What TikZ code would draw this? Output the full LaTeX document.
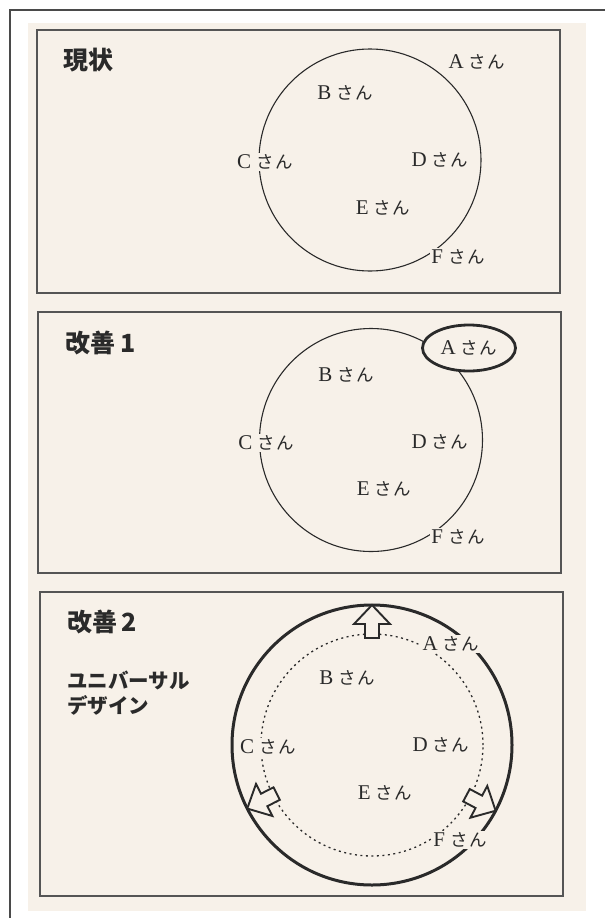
\documentclass[tikz,border=0pt]{standalone}
\usepackage{fontspec}
\usetikzlibrary{shapes.geometric}
\newfontfamily\jp{Noto Sans CJK JP}
\newfontfamily\ltr{Liberation Serif}
\definecolor{bg}{HTML}{F7F1E9}
\definecolor{ink}{HTML}{2A2A2A}
\newcommand{\san}[1]{{\ltr\fontsize{21}{21}\selectfont #1}\kern5pt{\jp\fontsize{17.5}{17.5}\selectfont さ\kern1.5pt ん}}
\tikzset{
  panel/.style={draw=ink!80, line width=1.3pt},
  lab/.style={fill=bg, inner sep=1.5pt, text=ink},
  ttl/.style={anchor=west, inner sep=0pt, text=ink, font=\jp\bfseries\fontsize{25}{25}\selectfont},
  thinring/.style={draw=ink, line width=1.1pt},
  thickring/.style={draw=ink, line width=3pt},
  dotring/.style={draw=ink, line width=1.3pt, dash pattern=on 2pt off 3.5pt},
  blockarrow/.style={draw=ink, line width=1.9pt, fill=bg, line join=miter}
}
\begin{document}
\begin{tikzpicture}[x=1pt,y=1pt]
\useasboundingbox (0,0) rectangle (605,-918);
\fill[white] (0,0) rectangle (605,-918);
\fill[bg] (28,-23) rectangle (586,-911);
\draw[ink!85, line width=1.5pt] (10,-918) -- (10,-10) -- (605,-10);

% ---------- panel 1 ----------
\draw[panel] (37,-30) rectangle (560,-293);
\node[ttl] (t1) at (63,-60) {現状};
\coordinate (c1) at (370,-160);
\draw[thinring] (c1) circle[radius=111];
\node[lab] (a1) at (477,-62) {\san{A}};
\node[lab] (b1) at (345,-93) {\san{B}};
\node[lab] (cc1) at (265,-162) {\san{C}};
\node[lab] (d1) at (440,-160) {\san{D}};
\node[lab] (e1) at (383,-208) {\san{E}};
\node[lab] (f1) at (458,-257) {\san{F}};

% ---------- panel 2 ----------
\draw[panel] (38,-312) rectangle (561,-573);
\node[ttl] (t2) at (65,-343) {改善\kern5pt 1};
\coordinate (c2) at (371,-440);
\draw[thinring] (c2) circle[radius=111.5];
\node[draw=ink, line width=2.8pt, fill=bg, ellipse, minimum width=93pt, minimum height=46pt, inner sep=0pt] (ell) at (469,-348) {};
\node[lab, fill=none] (a2) at (ell.center) {\san{A}};
\node[lab] (b2) at (346,-375) {\san{B}};
\node[lab] (cc2) at (266,-443) {\san{C}};
\node[lab] (d2) at (440,-442) {\san{D}};
\node[lab] (e2) at (384,-489) {\san{E}};
\node[lab] (f2) at (458,-537) {\san{F}};

% ---------- panel 3 ----------
\draw[panel] (40,-592) rectangle (563,-896);
\node[ttl] (t3) at (67,-622) {改善\kern4pt 2};
\node[ttl, align=left, font=\jp\bfseries\fontsize{20.5}{25}\selectfont] (ud) at (67,-693) {ユニバーサル\\デザイン};
\coordinate (c3) at (372,-745);
\draw[dotring] (c3) circle[radius=111];
\draw[thickring] (c3) circle[radius=140];
\foreach \ang/\nm in {90/up, 207/left, -28/right}{
  \begin{scope}[shift={(c3)}, rotate=\ang]
    \draw[blockarrow] (140,0) -- (121,18) -- (121,7) -- (107,7)
      -- (107,-7) -- (121,-7) -- (121,-18) -- cycle;
  \end{scope}
}
\node[lab] (a3) at (451,-644) {\san{A}};
\node[lab] (b3) at (347,-678) {\san{B}};
\node[lab] (cc3) at (268,-747) {\san{C}};
\node[lab] (d3) at (441,-745) {\san{D}};
\node[lab] (e3) at (385,-793) {\san{E}};
\node[lab] (f3) at (460,-840) {\san{F}};
\end{tikzpicture}
\end{document}
